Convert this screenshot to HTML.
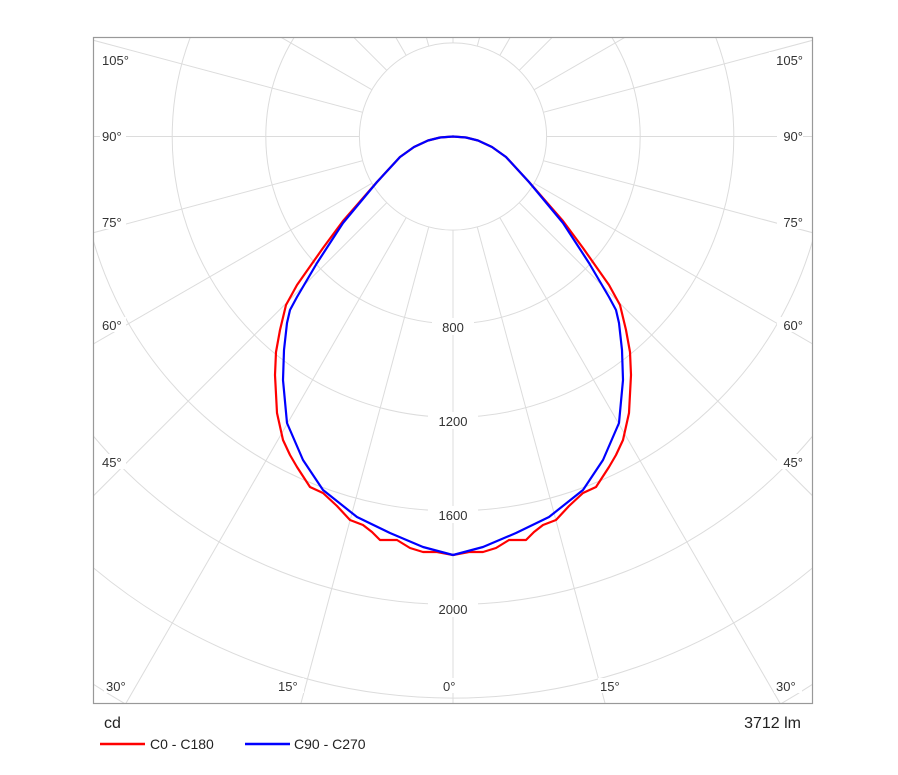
<!DOCTYPE html>
<html><head><style>html,body{margin:0;background:#fff;overflow:hidden;width:898px;height:775px}svg{display:block}</style></head><body>
<svg width="898" height="775" xmlns="http://www.w3.org/2000/svg" font-family="Liberation Sans, sans-serif">
<defs>
<clipPath id="c"><rect x="94" y="38" width="718" height="665"/></clipPath>
<mask id="m"><rect x="0" y="0" width="898" height="775" fill="#fff"/><circle cx="453" cy="136.5" r="94" fill="#000"/></mask>
</defs>
<g clip-path="url(#c)" stroke="#dcdcdc" stroke-width="1" fill="none">
<g mask="url(#m)">
<line x1="453" y1="136.5" x2="453" y2="1136"/>
<line x1="453" y1="136.5" x2="194" y2="1102"/><line x1="453" y1="136.5" x2="712" y2="1102"/>
<line x1="453" y1="136.5" x2="-47" y2="1003"/><line x1="453" y1="136.5" x2="953" y2="1003"/>
<line x1="453" y1="136.5" x2="-254" y2="843"/><line x1="453" y1="136.5" x2="1160" y2="843"/>
<line x1="453" y1="136.5" x2="-413" y2="636"/><line x1="453" y1="136.5" x2="1319" y2="636"/>
<line x1="453" y1="136.5" x2="-513" y2="395"/><line x1="453" y1="136.5" x2="1419" y2="395"/>
<line x1="453" y1="136.5" x2="-547" y2="136.5"/><line x1="453" y1="136.5" x2="1453" y2="136.5"/>
<line x1="453" y1="136.5" x2="-513" y2="-122"/><line x1="453" y1="136.5" x2="1419" y2="-122"/>
<line x1="453" y1="136.5" x2="-413" y2="-363"/><line x1="453" y1="136.5" x2="1319" y2="-363"/>
<line x1="453" y1="136.5" x2="-254" y2="-570"/><line x1="453" y1="136.5" x2="1160" y2="-570"/>
<line x1="453" y1="136.5" x2="-47" y2="-730"/><line x1="453" y1="136.5" x2="953" y2="-730"/>
<line x1="453" y1="136.5" x2="194" y2="-829"/><line x1="453" y1="136.5" x2="712" y2="-829"/>
<line x1="453" y1="136.5" x2="453" y2="-863"/>
</g>
<circle cx="453" cy="136.5" r="93.6"/><circle cx="453" cy="136.5" r="187.2"/><circle cx="453" cy="136.5" r="280.8"/>
<circle cx="453" cy="136.5" r="374.4"/><circle cx="453" cy="136.5" r="468"/><circle cx="453" cy="136.5" r="561.6"/>
<circle cx="453" cy="136.5" r="655.2"/><circle cx="453" cy="136.5" r="748.8"/><circle cx="453" cy="136.5" r="842"/>
</g>
<rect x="93.5" y="37.5" width="719" height="666" fill="none" stroke="#999" stroke-width="1.2"/>
<g font-size="13" fill="#333" text-anchor="middle">
<rect x="432" y="318" width="42" height="17" fill="#fff"/><text x="453" y="332">800</text>
<rect x="428" y="412" width="50" height="17" fill="#fff"/><text x="453" y="426">1200</text>
<rect x="428" y="506" width="50" height="17" fill="#fff"/><text x="453" y="520">1600</text>
<rect x="428" y="600" width="50" height="17" fill="#fff"/><text x="453" y="614">2000</text>
</g>
<g font-size="13" fill="#333">
<g fill="#fff"><rect x="100" y="52" width="34" height="15"/><rect x="100" y="128" width="26" height="15"/><rect x="100" y="214" width="26" height="15"/><rect x="100" y="317" width="26" height="15"/><rect x="100" y="454" width="26" height="15"/><rect x="104" y="678" width="26" height="15"/><rect x="276" y="678" width="28" height="15"/><rect x="441" y="678" width="22" height="15"/><rect x="598" y="678" width="28" height="15"/><rect x="774" y="678" width="28" height="15"/>
<rect x="769" y="52" width="34" height="15"/><rect x="777" y="128" width="26" height="15"/><rect x="777" y="214" width="26" height="15"/><rect x="777" y="317" width="26" height="15"/><rect x="777" y="454" width="26" height="15"/></g>
<text x="102" y="65">105°</text><text x="102" y="141">90°</text><text x="102" y="227">75°</text><text x="102" y="330">60°</text><text x="102" y="467">45°</text>
<text x="106" y="691">30°</text><text x="278" y="691">15°</text><text x="443" y="691">0°</text><text x="600" y="691">15°</text><text x="776" y="691">30°</text>
<g text-anchor="end"><text x="803" y="65">105°</text><text x="803" y="141">90°</text><text x="803" y="227">75°</text><text x="803" y="330">60°</text><text x="803" y="467">45°</text></g>
</g>
<g fill="none" stroke-width="2.2" stroke-linejoin="round">
<path stroke="#f00" d="M453,136.5 L440,137.5 L428,140.5 L414,147 L400,157 L377,182 L343,221 L323,248 L297,285 L286,305 L280,330 L276,352 L275,375 L277,413 L283,440 L290,455 L297,467 L310,487 L323,493 L337,506 L350,520 L363,525 L372,532 L380,540 L397,540 L410,548 L423,552 L437,552 L453,555 L469,552 L483,552 L496,548 L509,540 L526,540 L534,532 L543,525 L556,520 L569,506 L583,493 L596,487 L609,467 L616,455 L623,440 L629,413 L631,375 L630,352 L626,330 L620,305 L609,285 L583,248 L563,221 L529,182 L506,157 L492,147 L478,140.5 L466,137.5 Z"/>
<path stroke="#00f" d="M453,136.5 L440,137.5 L428,140.5 L414,147 L400,157 L377,182 L343,223 L317,263 L297,297 L290,310 L287,323 L284,350 L283,380 L287,423 L303,460 L323,490 L357,517 L390,533 L423,547 L453,555 L483,547 L516,533 L549,517 L583,490 L603,460 L619,423 L623,380 L622,350 L619,323 L616,310 L609,297 L589,263 L563,223 L529,182 L506,157 L492,147 L478,140.5 L466,137.5 Z"/>
</g>
<text x="104" y="728" font-size="16" fill="#222">cd</text>
<text x="801" y="728" font-size="16" fill="#222" text-anchor="end">3712 lm</text>
<line x1="100" y1="744" x2="145" y2="744" stroke="#f00" stroke-width="2.5"/>
<text x="150" y="749" font-size="14" fill="#222">C0 - C180</text>
<line x1="245" y1="744" x2="290" y2="744" stroke="#00f" stroke-width="2.5"/>
<text x="294" y="749" font-size="14" fill="#222">C90 - C270</text>
</svg>
</body></html>
